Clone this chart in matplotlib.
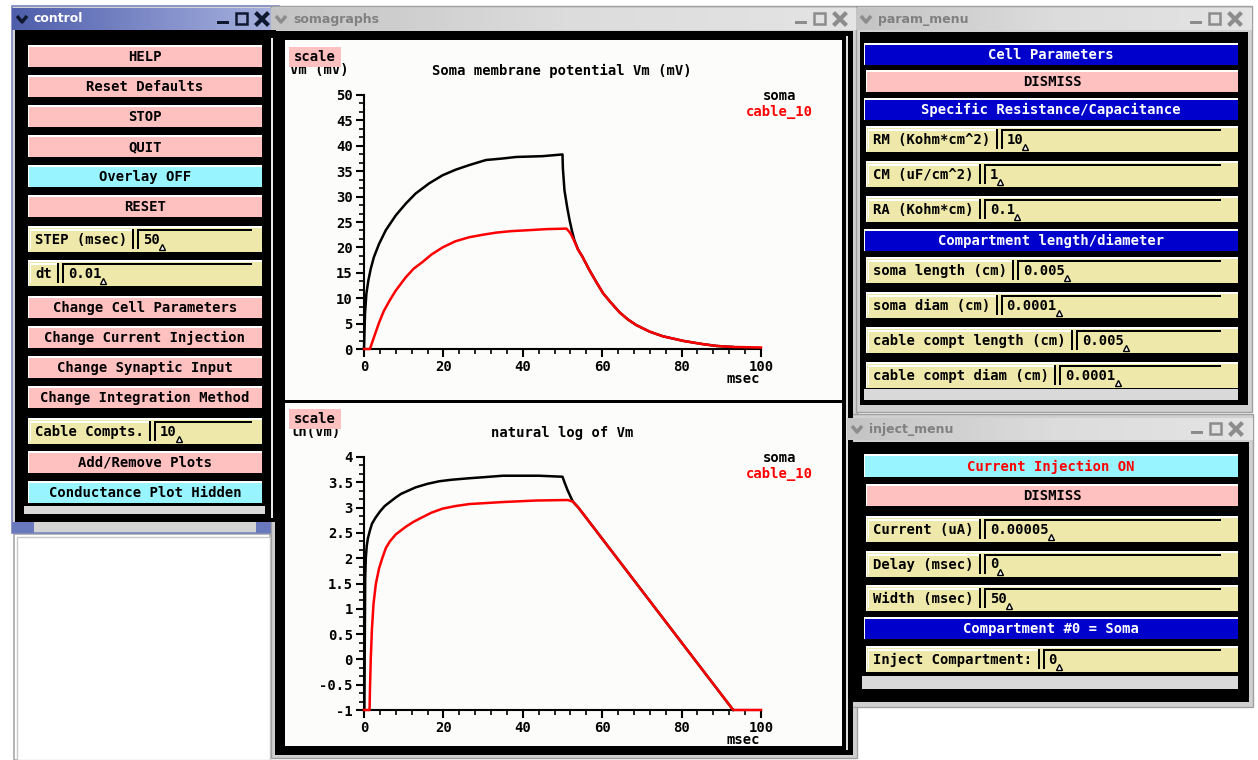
import numpy as np
import matplotlib
matplotlib.use("Agg")
import matplotlib.pyplot as plt
from matplotlib.patches import Rectangle
from matplotlib.colors import LinearSegmentedColormap
from matplotlib.ticker import MultipleLocator

# ---------- Data ----------
# Vm (mV) vs time (msec)
t_soma_vm = [0, 0.25, 0.6, 1.1, 1.7, 2.5, 3.8, 5.5, 8, 10.5, 13, 16.4, 19.8, 23.1,
             26.5, 30.7, 34.9, 38.3, 45, 50, 50.1, 50.5, 51.2, 51.8, 52.4, 53.0, 53.9,
             55, 56.8, 58.5, 60.2, 62, 64.4, 66.5, 68.6, 72, 75.3, 80.4, 85, 88.8, 93]
vm_soma = [0, 6.9, 10.9, 13.5, 15.8, 18.1, 20.7, 23.4, 26.3, 28.6, 30.6, 32.6, 34.2, 35.3,
           36.2, 37.2, 37.5, 37.8, 37.96, 38.3, 35.5, 31.2, 27.8, 25.3, 23.2, 21.4, 19.6,
           18.2, 15.5, 13.2, 11.0, 9.3, 7.2, 5.8, 4.7, 3.4, 2.5, 1.6, 1.0, 0.6, 0.4]
t_cable_vm = [0, 1.5, 2.5, 3.8, 5, 6.5, 8, 10.5, 12.5, 14.7, 17, 19.8, 23, 26.5, 30, 33.2,
              37, 41.7, 46, 51, 52, 53, 53.9, 55, 56.8, 58.5, 60.2, 62, 64.4, 66.5, 68.6,
              72, 75.3, 80.4, 85, 88.8, 93, 100]
vm_cable = [0, 0, 2.3, 5.2, 7.5, 9.6, 11.5, 14.1, 15.8, 17.1, 18.6, 20, 21.2, 22, 22.5,
            22.9, 23.2, 23.4, 23.6, 23.7, 22.8, 21.2, 19.6, 18.2, 15.5, 13.2, 11.0, 9.3,
            7.2, 5.8, 4.7, 3.4, 2.5, 1.6, 1.0, 0.6, 0.4, 0.3]

# ln(Vm) vs time (msec), clipped at -1 by the plot
t_soma_ln = [0, 0.1, 0.17, 0.3, 0.45, 0.7, 1.0, 1.5, 2, 2.9, 4, 5.2, 6.5, 8, 9.3, 11, 13,
             16, 18.9, 22, 26.5, 30, 35, 44, 50, 50.5, 51.3, 52, 52.6, 54, 93]
ln_soma = [-1, -1, 0.0, 1.6, 2.0, 2.25, 2.4, 2.55, 2.68, 2.8, 2.92, 3.03, 3.11, 3.2,
           3.27, 3.33, 3.4, 3.47, 3.52, 3.55, 3.58, 3.6, 3.63, 3.63, 3.61, 3.5, 3.34,
           3.22, 3.12, 3.0, -1]
t_cable_ln = [0, 1.4, 1.5, 1.7, 2.0, 2.4, 3.0, 3.8, 4.6, 5.5, 6.5, 8, 10.5, 12.5, 14.7,
              17, 19.8, 23, 26.5, 35, 43.4, 51.3, 52.6, 54, 93, 100]
ln_cable = [-1, -1, -0.6, 0.0, 0.6, 1.1, 1.5, 1.8, 2.0, 2.2, 2.33, 2.47, 2.62, 2.72,
            2.81, 2.9, 2.98, 3.03, 3.07, 3.11, 3.14, 3.15, 3.12, 3.0, -1, -1]

# ---------- GUI texts ----------
control_buttons = ["HELP", "Reset Defaults", "STOP", "QUIT", "Overlay OFF", "RESET"]
control_buttons2 = ["Change Cell Parameters", "Change Current Injection",
                    "Change Synaptic Input", "Change Integration Method"]
param_rows = [("RM (Kohm*cm^2)", "10"), ("CM (uF/cm^2)", "1"), ("RA (Kohm*cm)", "0.1")]
param_rows2 = [("soma length (cm)", "0.005"), ("soma diam (cm)", "0.0001"),
               ("cable compt length (cm)", "0.005"), ("cable compt diam (cm)", "0.0001")]
inject_rows = [("Current (uA)", "0.00005"), ("Delay (msec)", "0"), ("Width (msec)", "50")]

# ---------- Styles ----------
PINK = "#FFC0C0"
CYAN = "#98F5FF"
KHAKI = "#EEE8AA"
BLUE = "#0000CD"
BARGRAY = "#D9D9D9"
MONO = dict(family="DejaVu Sans Mono", weight="bold", size=10)
CW = 8.4  # width of one mono character in pixels

W, H = 1258, 760
fig = plt.figure(figsize=(12.58, 7.60), dpi=100, facecolor="white")
bg = fig.add_axes([0, 0, 1, 1])
bg.axis("off")


def rect(x0, y0, x1, y1, fc, ec="none", lw=0, z=1):
    bg.add_patch(Rectangle((x0, y0), x1 - x0, y1 - y0, facecolor=fc,
                           edgecolor=ec, linewidth=lw, zorder=z))


def txt(x, y, s, color="black", ha="center", z=5):
    bg.text(x, y, s, color=color, ha=ha, va="center", zorder=z, **MONO)


def raised(x0, y0, x1, y1, face, z=2):
    rect(x0, y0, x1, y1, "white", z=z)
    rect(x0 + 1, y0 + 2, x1, y1, face, z=z)


def button(x0, y0, x1, y1, face, label, color="black", z=2):
    raised(x0, y0, x1, y1, face, z=z)
    txt((x0 + x1) / 2, (y0 + y1) / 2 + 1, label, color=color, z=z + 3)


def entry_row(x0, y0, x1, y1, label, value, ent_x1):
    raised(x0, y0, x1, y1, KHAKI)
    lab_x1 = x0 + 8 + len(label) * CW + 4
    raised(x0 + 2, y0 + 3, lab_x1, y1 - 3, KHAKI)
    rect(lab_x1, y0 + 3, lab_x1 + 2, y1 - 3, "black", z=3)
    ex0 = lab_x1 + 5
    rect(ex0, y0 + 3, ent_x1, y1 - 3, "black", z=3)
    rect(ex0 + 2, y0 + 5, ent_x1, y1 - 3, KHAKI, z=3)
    yc = (y0 + y1) / 2 + 1
    txt(x0 + 7, yc, label, ha="left")
    txt(ex0 + 6, yc, value, ha="left")
    cx = ex0 + 6 + len(value) * CW + 2
    bg.plot([cx], [yc + 7], marker="^", ms=4.5, mfc="white", mec="black",
            mew=1, zorder=6)


def titlebar(x0, y0, x1, y1, title, active):
    if active:
        cmap = LinearSegmentedColormap.from_list("a", ["#4E5EAA", "#7D8AC8", "#A8B2DE"])
        tc, ic = "white", "#101830"
    else:
        cmap = LinearSegmentedColormap.from_list("i", ["#C4C4C4", "#DCDCDC", "#E4E4E4"])
        tc, ic = "#808080", "#8C8C8C"
    bg.imshow(np.linspace(0, 1, 64).reshape(1, -1), extent=(x0, x1, y1, y0),
              cmap=cmap, aspect="auto", zorder=2)
    ym = (y0 + y1) / 2
    bg.plot([x0 + 5, x0 + 10, x0 + 15], [ym - 3, ym + 3, ym - 3], color=ic,
            lw=2.5, zorder=3, solid_capstyle="butt")
    bg.text(x0 + 22, ym, title, color=tc, ha="left", va="center", family="DejaVu Sans",
            weight="bold", size=9, zorder=3)
    rect(x1 - 62, ym + 2, x1 - 50, ym + 5, ic, z=3)
    rect(x1 - 43, ym - 6, x1 - 32, ym + 5, "none", ec=ic, lw=1.8, z=3)
    bg.plot([x1 - 22, x1 - 12], [ym - 5, ym + 5], color=ic, lw=3, zorder=3)
    bg.plot([x1 - 22, x1 - 12], [ym + 5, ym - 5], color=ic, lw=3, zorder=3)


# ---------- Background window under control ----------
rect(14, 534, 270, 760, "white", ec="#A8A8A8", lw=1.2)
rect(17, 537, 270, 760, "white", ec="#C8C8C8", lw=1.0)

# ---------- control window ----------
rect(12, 6, 279, 533, "#D4D4D4", ec="#7A86C0", lw=1.2)
rect(12, 522, 34, 533, "#6A78BC")
rect(256, 522, 279, 533, "#6A78BC")
rect(15, 30, 276, 522, "black", z=1.5)
titlebar(12, 8, 279, 30, "control", True)
rect(271, 38, 273, 518, "#E8E8E8", z=2)
for i, lab in enumerate(control_buttons):
    yc = 56 + 30 * i
    face = CYAN if lab == "Overlay OFF" else PINK
    button(28, yc - 11, 262, yc + 11, face, lab)
entry_row(28, 226, 262, 252, "STEP (msec)", "50", 252)
entry_row(28, 260, 262, 286, "dt", "0.01", 252)
for i, lab in enumerate(control_buttons2):
    yc = 307 + 30 * i
    button(28, yc - 11, 262, yc + 11, PINK, lab)
entry_row(28, 418, 262, 444, "Cable Compts.", "10", 252)
button(28, 451, 262, 473, PINK, "Add/Remove Plots")
button(28, 481, 262, 503, CYAN, "Conductance Plot Hidden")
rect(24, 506, 265, 514, BARGRAY, z=2)

# ---------- somagraphs window ----------
rect(271, 6, 857, 758, "#D0D0D0", ec="#A0A0A0", lw=1.0)
rect(275, 31, 853, 755, "black", z=1.5)
titlebar(271, 8, 857, 30, "somagraphs", False)
rect(285, 40, 842, 746, "#FCFCFA", z=1.6)
rect(285, 400, 842, 403, "black", z=1.7)
rect(846, 36, 848, 750, "#E0E0E0", z=1.7)

# ---------- param_menu window ----------
rect(856, 6, 1252, 412, "#D0D0D0", ec="#A0A0A0", lw=1.0)
rect(860, 32, 1248, 405, "black", z=1.5)
titlebar(856, 8, 1252, 30, "param_menu", False)
button(864, 43, 1238, 65, BLUE, "Cell Parameters", color="white")
button(866, 70, 1238, 92, PINK, "DISMISS")
button(864, 98, 1238, 120, BLUE, "Specific Resistance/Capacitance", color="white")
for i, (lab, val) in enumerate(param_rows):
    yc = 139 + 35 * i
    entry_row(866, yc - 13, 1238, yc + 13, lab, val, 1221)
button(864, 229, 1238, 251, BLUE, "Compartment length/diameter", color="white")
for i, (lab, val) in enumerate(param_rows2):
    yc = 270 + 35 * i
    entry_row(866, yc - 13, 1238, yc + 13, lab, val, 1221)
rect(864, 389, 1238, 400, BARGRAY, z=2)

# ---------- inject_menu window ----------
rect(847, 414, 1253, 707, "#D0D0D0", ec="#A0A0A0", lw=1.0)
rect(851, 442, 1249, 702, "black", z=1.5)
titlebar(847, 418, 1253, 440, "inject_menu", False)
button(864, 454, 1238, 477, CYAN, "Current Injection ON", color="#FF0000")
button(866, 484, 1238, 506, PINK, "DISMISS")
for i, (lab, val) in enumerate(inject_rows):
    yc = 529 + 34.5 * i
    entry_row(866, yc - 13, 1238, yc + 13, lab, val, 1221)
button(864, 617, 1238, 639, BLUE, "Compartment #0 = Soma", color="white")
entry_row(866, 646, 1238, 672, "Inject Compartment:", "0", 1221)
rect(862, 676, 1238, 689, BARGRAY, z=2)

# ---------- graph labels ----------
for (ytop, ylab, title) in [(45, "Vm (mV)", "Soma membrane potential Vm (mV)"),
                            (407, "ln(Vm)", "natural log of Vm")]:
    # y label is partly hidden behind the "scale" button, as in the original
    txt(290, ytop + 25, ylab, ha="left", z=1.8)
    button(288, ytop, 341, ytop + 22, PINK, "scale", z=2)
    txt(562, ytop + 26, title)
    txt(780, ytop + 51, "soma")
    txt(779, ytop + 67, "cable_10", color="#FF0000")
txt(743, 379, "msec")
txt(743, 740, "msec")

bg.set_xlim(0, W)
bg.set_ylim(H, 0)

# ---------- the two plots ----------
ax1 = fig.add_axes([364 / W, (H - 349) / H, 397 / W, 254 / H])
ax2 = fig.add_axes([364 / W, (H - 710) / H, 397 / W, 253 / H])

ax1.plot(t_soma_vm, vm_soma, color="black", lw=1.8, clip_on=False)
ax1.plot(t_cable_vm, vm_cable, color="#FF0000", lw=1.8, clip_on=False)
ax1.set_ylim(0, 50)
ax1.yaxis.set_major_locator(MultipleLocator(5))
ax1.yaxis.set_minor_locator(MultipleLocator(5 / 3))

ax2.plot(t_soma_ln, ln_soma, color="black", lw=1.8, clip_on=False)
ax2.plot(t_cable_ln, ln_cable, color="#FF0000", lw=1.8, clip_on=False)
ax2.set_ylim(-1, 4)
ax2.yaxis.set_major_locator(MultipleLocator(0.5))
ax2.yaxis.set_minor_locator(MultipleLocator(0.5 / 3))
ax2.yaxis.set_major_formatter(plt.FuncFormatter(lambda v, p: f"{v:g}"))

for ax in (ax1, ax2):
    ax.set_xlim(0, 100)
    ax.patch.set_alpha(0)
    ax.xaxis.set_major_locator(MultipleLocator(20))
    ax.xaxis.set_minor_locator(MultipleLocator(4))
    for s in ("top", "right"):
        ax.spines[s].set_visible(False)
    for s in ("left", "bottom"):
        ax.spines[s].set_linewidth(1.5)
        ax.spines[s].set_zorder(1)
    ax.tick_params(which="major", direction="out", length=6, width=1.5, pad=2)
    ax.tick_params(which="minor", direction="out", length=3.5, width=1.2)
    for lab in ax.get_xticklabels() + ax.get_yticklabels():
        lab.set_fontfamily("DejaVu Sans Mono")
        lab.set_fontweight("bold")
        lab.set_fontsize(10)

fig.savefig("out.png", dpi=100, facecolor="white")
